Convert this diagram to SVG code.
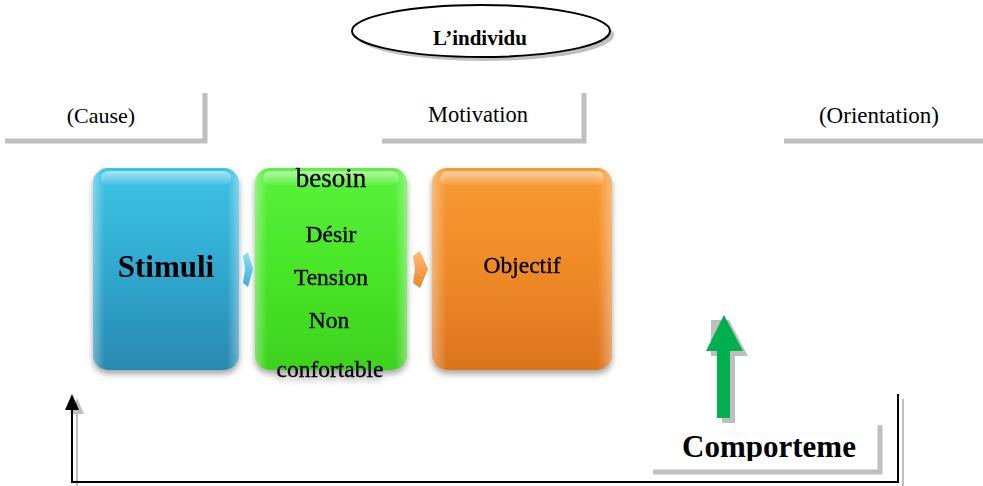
<svg xmlns="http://www.w3.org/2000/svg" width="983" height="486" viewBox="0 0 983 486">
<style>
.lbl{font-family:"Liberation Serif","Times New Roman",serif;fill:#000;text-anchor:middle}
.semi{stroke:#000;stroke-width:0.35}
.sh{fill:none;stroke:#bfbfbf;stroke-width:5}
.ln{fill:none;stroke:#000;stroke-width:2}
</style>
<defs>
<linearGradient id="gBlue" x1="0" y1="0" x2="0" y2="1">
<stop offset="0" stop-color="#3ec3e6"/><stop offset="0.5" stop-color="#30a9cf"/><stop offset="1" stop-color="#2889b0"/>
</linearGradient>
<linearGradient id="gGreen" x1="0" y1="0" x2="0" y2="1">
<stop offset="0" stop-color="#5af23c"/><stop offset="0.5" stop-color="#48e628"/><stop offset="1" stop-color="#3ed21e"/>
</linearGradient>
<linearGradient id="gOrange" x1="0" y1="0" x2="0" y2="1">
<stop offset="0" stop-color="#f89a33"/><stop offset="0.5" stop-color="#ef8a28"/><stop offset="1" stop-color="#dc741e"/>
</linearGradient>
<linearGradient id="gGloss" x1="0" y1="0" x2="0" y2="1">
<stop offset="0" stop-color="#fff" stop-opacity="0.55"/><stop offset="1" stop-color="#fff" stop-opacity="0.05"/>
</linearGradient>
<linearGradient id="gEdge" x1="0" y1="0" x2="1" y2="0">
<stop offset="0" stop-color="#fff" stop-opacity="0.35"/><stop offset="0.08" stop-color="#fff" stop-opacity="0"/><stop offset="0.92" stop-color="#fff" stop-opacity="0"/><stop offset="1" stop-color="#fff" stop-opacity="0.35"/>
</linearGradient>
<linearGradient id="gArB" x1="0" y1="0" x2="0" y2="1">
<stop offset="0" stop-color="#8fe0f5"/><stop offset="1" stop-color="#3aaed6"/>
</linearGradient>
<linearGradient id="gArO" x1="0" y1="0" x2="0" y2="1">
<stop offset="0" stop-color="#fbbd7a"/><stop offset="1" stop-color="#ec8526"/>
</linearGradient>
<filter id="soft" x="-10%" y="-10%" width="120%" height="125%">
<feGaussianBlur in="SourceAlpha" stdDeviation="3"/>
<feOffset dx="0" dy="4" result="b"/>
<feComponentTransfer><feFuncA type="linear" slope="0.35"/></feComponentTransfer>
<feMerge><feMergeNode/><feMergeNode in="SourceGraphic"/></feMerge>
</filter>
<clipPath id="cComp"><rect x="640" y="415" width="240" height="46"/></clipPath>
</defs>

<g id="individu">
<ellipse cx="485" cy="35" rx="129" ry="26" fill="#bfbfbf"/>
<ellipse cx="481" cy="31" rx="129" ry="26" fill="#fff" stroke="#000" stroke-width="2"/>
<text class="lbl" x="480" y="45" font-size="21" font-weight="bold">L’individu</text>
</g>

<g id="cause">
<path class="sh" d="M205,93 V141 H5"/>
<text class="lbl" x="101" y="123" font-size="22">(Cause)</text>
</g>

<g id="motivation">
<path class="sh" d="M584,93 V141 H382"/>
<text class="lbl" x="478" y="122" font-size="22.5">Motivation</text>
</g>

<g id="orientation">
<path class="sh" d="M983,141 H784"/>
<text class="lbl" x="879" y="123" font-size="23">(Orientation)</text>
</g>

<g id="stimuli" filter="url(#soft)">
<rect x="93" y="168" width="146" height="202" rx="15" fill="url(#gBlue)"/>
<rect x="93" y="168" width="146" height="202" rx="15" fill="url(#gEdge)"/>
<rect x="101" y="171" width="130" height="14" rx="7" fill="url(#gGloss)"/>
<text class="lbl" x="166" y="277" font-size="31" font-weight="bold" fill="#0a1a20">Stimuli</text>
</g>

<g id="besoin" filter="url(#soft)">
<rect x="255" y="168" width="152" height="202" rx="15" fill="url(#gGreen)"/>
<rect x="255" y="168" width="152" height="202" rx="15" fill="url(#gEdge)"/>
<rect x="263" y="171" width="136" height="14" rx="7" fill="url(#gGloss)"/>
<text class="lbl semi" x="331" y="187" font-size="27">besoin</text>
<text class="lbl semi" x="331" y="242" font-size="23.5">Désir</text>
<text class="lbl semi" x="331" y="285" font-size="23.5">Tension</text>
<text class="lbl semi" x="329" y="328" font-size="23.5">Non</text>
<text class="lbl semi" x="330" y="377" font-size="23.5">confortable</text>
</g>

<g id="objectif" filter="url(#soft)">
<rect x="432" y="168" width="180" height="202" rx="15" fill="url(#gOrange)"/>
<rect x="432" y="168" width="180" height="202" rx="15" fill="url(#gEdge)"/>
<rect x="440" y="171" width="164" height="14" rx="7" fill="url(#gGloss)"/>
<text class="lbl semi" x="522" y="273" font-size="23.5">Objectif</text>
</g>

<g id="comportement">
<path class="sh" d="M880,425 V472 H653"/>
<text class="lbl" x="769" y="457" font-size="31" font-weight="bold" clip-path="url(#cComp)">Comporteme</text>
</g>

<g id="connectors">
<polygon points="243,256 248,252 253,269 248,287 243,283 245,269" fill="url(#gArB)"/>
<polygon points="413,256 420,251 428,269 420,288 413,283 415,269" fill="url(#gArO)"/>
<polygon points="711,320 729,320 748,356 735,356 735,423 722,423 722,356 711,356" fill="#bfbfbf"/>
<polygon points="724,315 743,351 730,351 730,418 717,418 717,351 706,351" fill="#00b050"/>
<path d="M903,399 V488 H77 V414" fill="none" stroke="#bfbfbf" stroke-width="2"/>
<polygon points="70,414 77,398 84,414" fill="#bfbfbf"/>
<path class="ln" d="M898,394 V482 H72 V408"/>
<polygon points="65,410 72,394 79,410" fill="#000"/>
</g>
</svg>
